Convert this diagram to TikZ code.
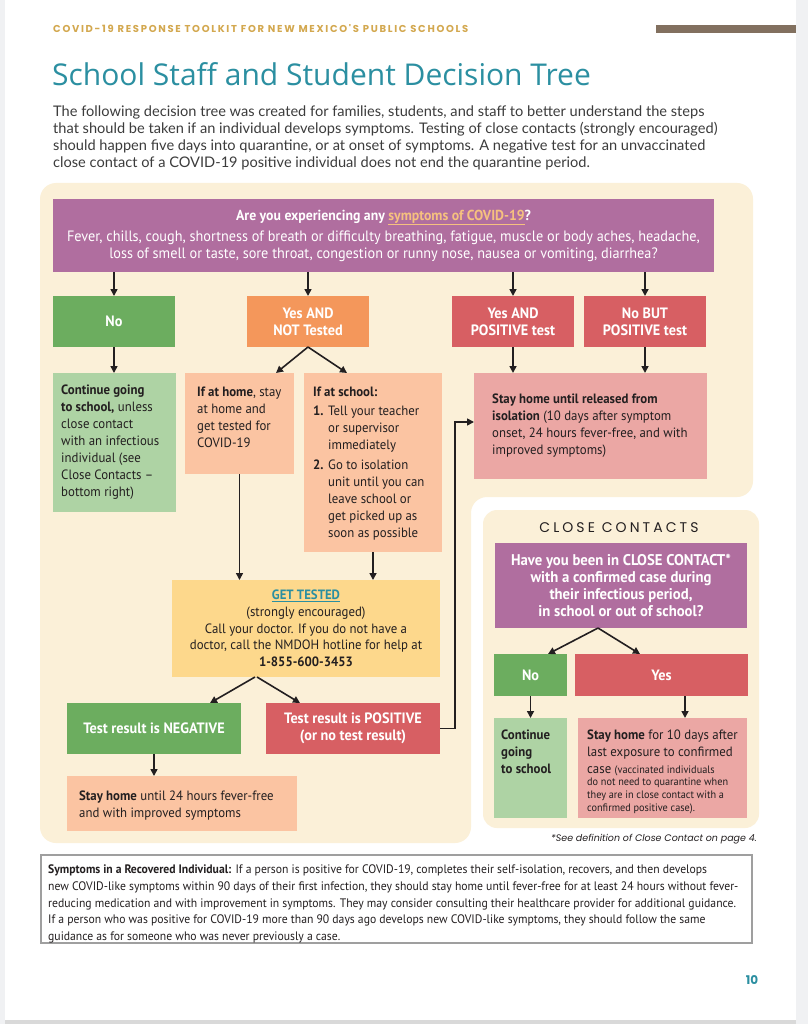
\documentclass[tikz,border=0pt]{standalone}
\usepackage{fontspec}
\setmainfont{PT Sans}[FakeStretch=0.95]
\newfontfamily\popfont{Poppins}
\newfontfamily\popsp{Poppins}[LetterSpace=17]
\newfontfamily\popcc{Poppins}[LetterSpace=22]
\newfontfamily\osfont{Open Sans}
\newfontfamily\latofont{Lato}
\usetikzlibrary{arrows.meta}
\definecolor{cgreen}{HTML}{6CAD5F}
\definecolor{clgreen}{HTML}{AED3A4}
\definecolor{corange}{HTML}{F4975B}
\definecolor{cpeach}{HTML}{FBC4A2}
\definecolor{cred}{HTML}{D75F63}
\definecolor{cpink}{HTML}{EBA7A4}
\definecolor{cyellow}{HTML}{FDD88C}
\definecolor{cpurple}{HTML}{B06E9F}
\definecolor{ccream}{HTML}{FBF0D8}
\definecolor{cteal}{HTML}{2B8FA1}
\definecolor{cgold}{HTML}{D3A84F}
\definecolor{cbrown}{HTML}{82705F}
\definecolor{cdark}{HTML}{231F20}
\definecolor{cgraytxt}{HTML}{3C3C3C}
\definecolor{cpagegray}{HTML}{F0F1F3}
\definecolor{culine}{HTML}{F6C17F}
\begin{document}
\begin{tikzpicture}[x=1pt,y=-1pt,
  box/.style={inner sep=0pt, outer sep=0pt, anchor=north west},
  lbl/.style={text=white, align=center, font=\bfseries\fontsize{15}{17}\selectfont},
  txt/.style={inner sep=0pt, anchor=north west, align=left, text=cdark, font=\fontsize{13.5}{17}\selectfont},
  arr/.style={line width=1.6pt, draw=cdark, -{Triangle[length=7pt,width=7pt]}}]
\useasboundingbox (0,0) rectangle (808,1024);
\fill[cpagegray] (0,0) rectangle (808,1024);
\fill[white] (5,0) rectangle (796,1020);
\fill[gray!30] (5,1020) rectangle (796,1024);
% header
\node[anchor=west, inner sep=0pt, text=cgold, font=\popsp\bfseries\fontsize{10}{12}\selectfont] (hdr) at (53,29) {COVID-19 RESPONSE TOOLKIT FOR NEW MEXICO'S PUBLIC SCHOOLS};
\fill[cbrown] (656,25) rectangle (796,33);
\node[anchor=base west, inner sep=0pt, text=cteal, font=\osfont\fontsize{30}{34}\selectfont] (title) at (52,86) {School Staff and Student Decision Tree};
\node[txt, text=cgraytxt, font=\latofont\fontsize{14.6}{17}\selectfont] (intro) at (53,106) {The following decision tree was created for families, students, and staff to better understand the steps\\that should be taken if an individual develops symptoms. Testing of close contacts (strongly encouraged)\\should happen five days into quarantine, or at onset of symptoms. A negative test for an unvaccinated\\close contact of a COVID-19 positive individual does not end the quarantine period.};
% cream backgrounds
\fill[ccream, rounded corners=16pt] (40,183) -- (753,183) -- (753,497) -- (471,497) -- (471,843) -- (40,843) -- cycle;
\fill[ccream, rounded corners=14pt] (483,510) rectangle (759,828);
% top question
\node[box, fill=cpurple, minimum width=661, minimum height=73, text=white, align=center, font=\fontsize{15}{17}\selectfont] (q) at (53,199) {{\bfseries\fontsize{14.5}{17}\selectfont Are you experiencing any \textcolor{culine}{\underline{symptoms of COVID-19}}?}\\[4pt]Fever, chills, cough, shortness of breath or difficulty breathing, fatigue, muscle or body aches, headache,\\loss of smell or taste, sore throat, congestion or runny nose, nausea or vomiting, diarrhea?};
% row 1
\node[box, lbl, fill=cgreen, minimum width=122, minimum height=51] (no) at (53,296) {No};
\node[box, lbl, fill=corange, minimum width=122, minimum height=51] (ynt) at (247,296) {Yes AND\\NOT Tested};
\node[box, lbl, fill=cred, minimum width=122, minimum height=51] (yp) at (452,296) {Yes AND\\POSITIVE test};
\node[box, lbl, fill=cred, minimum width=122, minimum height=51] (nbp) at (584,296) {No BUT\\POSITIVE test};
\foreach \n in {no,ynt,yp,nbp} \draw[arr] (q.south -| \n.north) -- (\n.north);
% row 2
\node[box, fill=clgreen, minimum width=123, minimum height=139] (cont) at (53,373) {};
\node[txt] (contt) at (61,385) {\textbf{Continue going}\\\textbf{to school,} unless\\close contact\\with an infectious\\individual (see\\Close Contacts –\\bottom right)};
\node[box, fill=cpeach, minimum width=109, minimum height=101] (home) at (185,373) {};
\node[txt] (homet) at (197,387) {\textbf{If at home}, stay\\at home and\\get tested for\\COVID-19};
\node[box, fill=cpeach, minimum width=138, minimum height=179] (school) at (304,373) {};
\node[txt] (schoolt) at (313,387) {\textbf{If at school:}\\[2pt]\makebox[15pt][l]{\textbf{1.}}Tell your teacher\\\hspace*{15pt}or supervisor\\\hspace*{15pt}immediately\\[3pt]\makebox[15pt][l]{\textbf{2.}}Go to isolation\\\hspace*{15pt}unit until you can\\\hspace*{15pt}leave school or\\\hspace*{15pt}get picked up as\\\hspace*{15pt}soon as possible};
\draw[arr] (no.south) -- (no.south |- cont.north);
\draw[arr] (ynt.south) -- ([xshift=-18pt]home.north east);
\draw[arr] (ynt.south) -- ([xshift=43pt]school.north west);
\node[box, fill=cpink, minimum width=233, minimum height=106] (rel) at (474,373) {};
\node[txt] (relt) at (492,394) {\textbf{Stay home until released from}\\\textbf{isolation} (10 days after symptom\\onset, 24 hours fever-free, and with\\improved symptoms)};
\draw[arr] (yp.south) -- (yp.south |- rel.north);
\draw[arr] (nbp.south) -- (nbp.south |- rel.north);
% get tested
\node[box, fill=cyellow, minimum width=268, minimum height=97, align=center, text=cdark, font=\fontsize{13.5}{16.7}\selectfont] (gt) at (172,580) {\textbf{\textcolor{cteal}{\underline{GET TESTED}}}\\(strongly encouraged)\\Call your doctor. If you do not have a\\doctor, call the NMDOH hotline for help at\\\textbf{1-855-600-3453}};
\draw[arr] (home.south) -- (home.south |- gt.north);
\draw[arr] (school.south) -- (school.south |- gt.north);
\node[box, lbl, fill=cgreen, minimum width=174, minimum height=51] (neg) at (67,703) {Test result is NEGATIVE};
\node[box, lbl, fill=cred, minimum width=174, minimum height=51] (pos) at (266,703) {Test result is POSITIVE\\(or no test result)};
\draw[arr] ([xshift=-51pt]gt.south) -- ([xshift=-31pt]neg.north east);
\draw[arr] ([xshift=-49pt]gt.south) -- ([xshift=34pt]pos.north west);
\draw[arr] (pos.east) -- ++(15,0) |- ([yshift=4pt]rel.west);
\node[box, fill=cpeach, minimum width=230, minimum height=55] (stay) at (67,776) {};
\node[txt] (stayt) at (79,791) {\textbf{Stay home} until 24 hours fever-free\\and with improved symptoms};
\draw[arr] (neg.south) -- (neg.south |- stay.north);
% close contacts
\node[inner sep=0pt, text=cdark, font=\popcc\fontsize{14}{16}\selectfont] (cch) at (619,528) {CLOSE CONTACTS};
\node[box, fill=cpurple, minimum width=252, minimum height=85, text=white, align=center, font=\bfseries\fontsize{15.5}{16.8}\selectfont] (ccq) at (495,543) {Have you been in CLOSE CONTACT*\\with a confirmed case during\\their infectious period,\\in school or out of school?};
\node[box, lbl, fill=cgreen, minimum width=73, minimum height=42] (ccn) at (494,654) {No};
\node[box, lbl, fill=cred, minimum width=173, minimum height=42] (ccy) at (575,654) {Yes};
\draw[arr] ([xshift=-23pt]ccq.south) -- ([xshift=-19pt]ccn.north east);
\draw[arr] ([xshift=-23pt]ccq.south) -- ([xshift=65pt]ccy.north west);
\node[box, fill=clgreen, minimum width=73, minimum height=100] (ccc) at (494,718) {};
\node[txt, font=\bfseries\fontsize{13.5}{17}\selectfont] (ccct) at (501,730) {Continue\\going\\to school};
\node[box, fill=cpink, minimum width=169, minimum height=100] (ccs) at (578,718) {};
\node[txt] (ccst) at (587,730) {\textbf{Stay home} for 10 days after\\last exposure to confirmed\\case {\fontsize{10.8}{13}\selectfont (vaccinated individuals}};
\node[txt, font=\fontsize{10.8}{13}\selectfont] (ccst2) at (587,778) {do not need to quarantine when\\they are in close contact with a\\confirmed positive case).};
\draw[arr] (ccn.south) -- (ccn.south |- ccc.north);
\draw[arr] ([xshift=23.5pt]ccy.south) -- ([xshift=23.5pt]ccy.south |- ccs.north);
\node[anchor=east, inner sep=0pt, text=cdark, font=\popfont\itshape\fontsize{9.5}{11}\selectfont] (foot) at (757,839) {*See definition of Close Contact on page 4.};
% recovered box
\node[box, draw=gray!75, line width=1.3pt, fill=white, minimum width=711, minimum height=88] (rec) at (41,855) {};
\node[txt, font=\fontsize{12.3}{16.6}\selectfont] (rect) at (48,865) {\textbf{Symptoms in a Recovered Individual:} If a person is positive for COVID-19, completes their self-isolation, recovers, and then develops\\new COVID-like symptoms within 90 days of their first infection, they should stay home until fever-free for at least 24 hours without fever-\\reducing medication and with improvement in symptoms. They may consider consulting their healthcare provider for additional guidance.\\If a person who was positive for COVID-19 more than 90 days ago develops new COVID-like symptoms, they should follow the same\\guidance as for someone who was never previously a case.};
\node[inner sep=0pt, text=cteal, font=\popfont\bfseries\fontsize{12}{14}\selectfont] (pg) at (752,980) {10};
\end{tikzpicture}
\end{document}
